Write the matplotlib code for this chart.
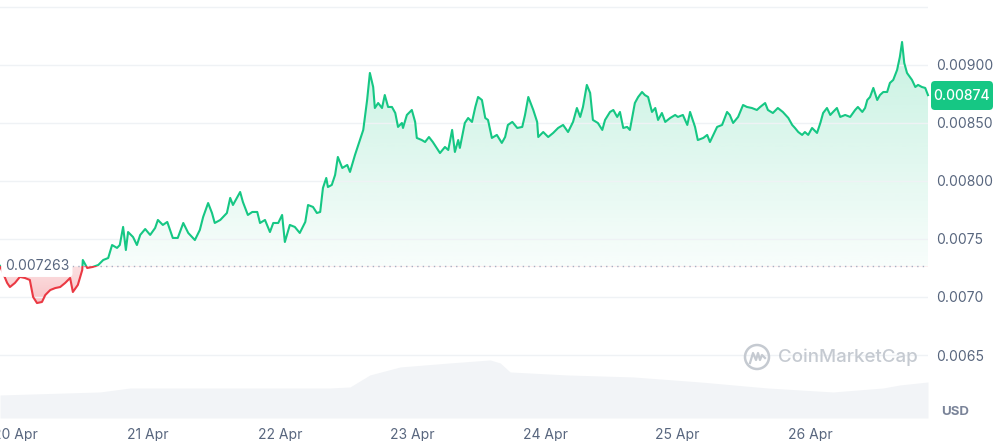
import matplotlib.pyplot as plt
import matplotlib.dates as mdates
import matplotlib.patches as mpatches
from matplotlib.transforms import IdentityTransform
from matplotlib.ticker import FixedLocator, FixedFormatter
import numpy as np
import pandas as pd

plt.rcParams['font.family'] = ['Inter', 'DejaVu Sans']

# 7日間の価格 (開始時刻からの経過時間)
start = pd.Timestamp('2024-04-19 21:17')
hours = [
    0.0, 1.3, 1.8, 2.7, 3.6, 4.5, 5.4, 6.0, 6.7, 7.6,
    8.2, 9.1, 10.0, 10.9, 11.8, 12.7, 13.2, 14.1, 14.9, 15.0,
    15.8, 16.8, 17.8, 18.7, 19.6, 20.3, 21.2, 21.7, 22.3, 22.8,
    23.2, 24.1, 24.8, 25.4, 26.3, 27.2, 28.1, 28.6, 29.5, 30.3,
    31.3, 32.2, 33.2, 34.1, 35.3, 36.2, 36.8, 37.7, 38.4, 38.9,
    39.9, 41.1, 41.7, 42.2, 43.5, 44.0, 44.9, 45.7, 46.6, 47.1,
    48.0, 48.9, 49.5, 50.4, 51.1, 51.6, 52.5, 53.4, 54.3, 55.3,
    55.8, 56.7, 57.4, 58.0, 58.5, 59.1, 59.4, 60.1, 60.7, 61.2,
    62.0, 62.9, 63.4, 64.3, 65.2, 65.8, 66.5, 67.0, 67.6, 67.9,
    68.5, 69.2, 69.7, 70.3, 71.0, 71.6, 72.1, 72.8, 73.0, 73.7,
    74.6, 75.2, 75.5, 76.4, 77.0, 77.7, 78.4, 79.7, 80.6, 81.2,
    81.9, 82.4, 83.0, 83.3, 84.2, 84.8, 85.5, 86.1, 86.6, 87.3,
    87.9, 88.4, 89.1, 90.0, 90.9, 91.5, 92.0, 92.8, 93.7, 94.6,
    95.1, 95.7, 96.6, 97.3, 97.5, 98.4, 99.3, 100.2, 101.1, 102.0,
    102.9, 103.8, 104.5, 105.1, 105.6, 106.3, 106.9, 107.4, 108.3, 109.1,
    109.6, 110.5, 111.1, 111.8, 112.3, 112.9, 113.6, 114.1, 115.0, 115.6,
    116.3, 116.8, 117.4, 118.1, 118.7, 119.2, 119.9, 120.5, 121.4, 122.3,
    122.8, 123.7, 124.5, 125.0, 125.9, 126.4, 127.4, 128.1, 128.6, 129.9,
    130.8, 131.7, 132.2, 132.8, 133.7, 134.6, 135.3, 136.2, 137.1, 137.7,
    138.6, 139.1, 140.0, 140.9, 141.8, 142.8, 143.5, 144.0, 144.6, 145.3,
    145.8, 146.4, 147.1, 148.0, 148.6, 149.1, 149.8, 150.4, 150.9, 151.6,
    152.2, 153.1, 154.0, 154.9, 155.4, 156.2, 156.7, 157.1, 157.6, 158.2,
    158.9, 159.4, 160.0, 160.7, 161.2, 161.8, 162.5, 163.0, 163.4, 163.8,
    164.3, 165.2, 165.8, 166.3, 167.0, 167.6, 168.1,
]
price = [
    0.007268, 0.007121, 0.007086, 0.007121, 0.007173, 0.007164, 0.007147, 0.007000, 0.006948, 0.006957,
    0.007017, 0.007060, 0.007077, 0.007086, 0.007121, 0.007164, 0.007043, 0.007104, 0.007233, 0.007319,
    0.007250, 0.007259, 0.007276, 0.007319, 0.007336, 0.007448, 0.007423, 0.007448, 0.007604, 0.007405,
    0.007560, 0.007517, 0.007448, 0.007535, 0.007586, 0.007535, 0.007595, 0.007664, 0.007621, 0.007647,
    0.007509, 0.007509, 0.007638, 0.007552, 0.007491, 0.007578, 0.007690, 0.007810, 0.007724, 0.007638,
    0.007664, 0.007724, 0.007854, 0.007793, 0.007905, 0.007819, 0.007707, 0.007733, 0.007733, 0.007638,
    0.007664, 0.007560, 0.007638, 0.007638, 0.007707, 0.007474, 0.007621, 0.007604, 0.007552, 0.007647,
    0.007793, 0.007776, 0.007724, 0.007733, 0.007940, 0.008026, 0.007948, 0.007966, 0.008052, 0.008207,
    0.008112, 0.008138, 0.008078, 0.008224, 0.008353, 0.008440, 0.008698, 0.008931, 0.008810, 0.008629,
    0.008672, 0.008629, 0.008741, 0.008638, 0.008638, 0.008586, 0.008466, 0.008500, 0.008457, 0.008569,
    0.008612, 0.008509, 0.008371, 0.008353, 0.008336, 0.008379, 0.008336, 0.008241, 0.008293, 0.008267,
    0.008440, 0.008250, 0.008353, 0.008285, 0.008500, 0.008543, 0.008509, 0.008638, 0.008724, 0.008698,
    0.008543, 0.008526, 0.008371, 0.008397, 0.008328, 0.008379, 0.008483, 0.008509, 0.008457, 0.008466,
    0.008569, 0.008724, 0.008612, 0.008509, 0.008379, 0.008422, 0.008379, 0.008414, 0.008457, 0.008483,
    0.008422, 0.008509, 0.008629, 0.008552, 0.008638, 0.008828, 0.008759, 0.008526, 0.008500, 0.008440,
    0.008526, 0.008595, 0.008612, 0.008552, 0.008595, 0.008457, 0.008466, 0.008440, 0.008672, 0.008724,
    0.008767, 0.008741, 0.008724, 0.008595, 0.008629, 0.008526, 0.008586, 0.008509, 0.008543, 0.008569,
    0.008552, 0.008569, 0.008483, 0.008595, 0.008466, 0.008353, 0.008371, 0.008397, 0.008336, 0.008466,
    0.008483, 0.008595, 0.008569, 0.008500, 0.008552, 0.008655, 0.008638, 0.008629, 0.008612, 0.008638,
    0.008672, 0.008612, 0.008586, 0.008629, 0.008595, 0.008543, 0.008483, 0.008457, 0.008422, 0.008397,
    0.008422, 0.008397, 0.008457, 0.008414, 0.008500, 0.008586, 0.008629, 0.008569, 0.008595, 0.008629,
    0.008552, 0.008569, 0.008552, 0.008612, 0.008638, 0.008595, 0.008629, 0.008698, 0.008724, 0.008802,
    0.008698, 0.008741, 0.008767, 0.008767, 0.008845, 0.008871, 0.008957, 0.009069, 0.009198, 0.009017,
    0.008931, 0.008871, 0.008810, 0.008828, 0.008810, 0.008802, 0.008740,
]
open_price = 0.007263
last_label = '0.00874'

# 出来高 (相対値)
vol_hours = [0.0, 18.1, 23.6, 43.5, 59.8, 63.4, 67.0, 72.5, 81.5, 88.8,
             90.6, 92.4, 102.7, 114.7, 126.8, 139.0, 150.9, 160.0, 163.0, 168.1]
volume = [23, 26, 30, 30, 30, 31, 43, 51, 55, 58,
          55, 46, 43, 41, 36, 30, 26, 30, 33, 36]

ytick_values = [0.0065, 0.0070, 0.0075, 0.0080, 0.0085, 0.0090, 0.0095]
ytick_labels = ['0.0065', '0.0070', '0.0075', '0.00800', '0.00850', '0.00900', '']

green = '#16c784'
red = '#ea3943'
gray = '#58667e'

t = mdates.date2num((start + pd.to_timedelta(hours, unit='h')).to_pydatetime())
tv = mdates.date2num((start + pd.to_timedelta(vol_hours, unit='h')).to_pydatetime())
p = np.array(price)
t0, t1 = t[0], t[-1]
ylo, yhi = 0.005957, 0.009560

fig = plt.figure(figsize=(9.97, 4.41), dpi=100)
pos = [0, 23 / 441, 928 / 997, 418 / 441]

# 出来高エリア
ax_vol = fig.add_axes(pos)
ax_vol.fill_between(tv, volume, 0, color='#f2f4f7', lw=0)
ax_vol.set_xlim(t0, t1)
ax_vol.set_ylim(0, max(volume) * 7.2)
ax_vol.axis('off')

ax = fig.add_axes(pos, facecolor='none')

# グラデーション塗り
poly = ax.fill_between(t, p, open_price, color='none', lw=0)
clip = poly.get_paths()[0]

g = np.zeros((256, 1, 4))
g[..., :3] = np.array([22, 199, 132]) / 255
g[:, 0, 3] = np.linspace(0.24, 0.03, 256)
im_g = ax.imshow(g, extent=[t0, t1, open_price, p.max()], aspect='auto',
                 origin='upper', interpolation='bilinear', zorder=1)
im_g.set_clip_path(clip, transform=ax.transData)

r = np.zeros((256, 1, 4))
r[..., :3] = np.array([234, 57, 67]) / 255
r[:, 0, 3] = np.linspace(0.16, 0.3, 256)
im_r = ax.imshow(r, extent=[t0, t1, p.min(), open_price], aspect='auto',
                 origin='upper', interpolation='bilinear', zorder=1)
im_r.set_clip_path(clip, transform=ax.transData)

# 価格ライン (基準より上は緑、下は赤)
up_box = mpatches.Rectangle((t0 - 1, open_price), t1 - t0 + 2, 1, transform=ax.transData)
dn_box = mpatches.Rectangle((t0 - 1, 0), t1 - t0 + 2, open_price, transform=ax.transData)
l1, = ax.plot(t, p, color=green, lw=1.5, zorder=3, solid_joinstyle='round')
l1.set_clip_path(up_box)
l2, = ax.plot(t, p, color=red, lw=1.5, zorder=3, solid_joinstyle='round')
l2.set_clip_path(dn_box)

ax.axhline(open_price, color='#a6b0c3', ls=(0, (1, 3)), lw=1, zorder=2)
ax.text(0.005, open_price, '0.007263', transform=ax.get_yaxis_transform(),
        ha='left', va='center', fontsize=10, color=gray, zorder=4,
        bbox=dict(boxstyle='round,pad=0.25', fc='white', ec='none'))

ax.set_xlim(t0, t1)
ax.set_ylim(ylo, yhi)

ax.yaxis.tick_right()
ax.yaxis.set_major_locator(FixedLocator(ytick_values))
ax.yaxis.set_major_formatter(FixedFormatter(ytick_labels))
ax.tick_params(axis='y', length=0, pad=6, labelsize=10, labelcolor=gray)
ax.grid(axis='y', color='#eff2f5', lw=1)

ax.xaxis.set_major_locator(mdates.DayLocator())
ax.xaxis.set_major_formatter(mdates.DateFormatter('%-d %b'))
ax.tick_params(axis='x', length=0, pad=7, labelsize=10, labelcolor=gray)

for s in ax.spines.values():
    s.set_visible(False)

# 現在価格バッジ
badge = mpatches.FancyBboxPatch((931, 441 - 110), 62, 29,
                                boxstyle='round,pad=0,rounding_size=4',
                                fc=green, ec='none', transform=IdentityTransform())
fig.add_artist(badge)
fig.text(962 / 997, 1 - 95.5 / 441, last_label, ha='center', va='center',
         fontsize=10, color='white', fontweight='medium')

fig.text(955 / 997, 1 - 412 / 441, 'USD', ha='center', va='center',
         fontsize=9.5, fontweight='bold', color='#7a8499')

# ウォーターマーク
wm = '#c5cad1'
fig.add_artist(mpatches.Circle((757, 441 - 357), 12, fill=False, ec=wm, lw=1.8,
                               transform=IdentityTransform()))
mx = np.array([-7, -4, -1, 1, 3, 5, 8]) + 757
my = np.array([-6, 4, -3, 4, -3, 2, -1]) + 441 - 357
fig.add_artist(plt.Line2D(mx, my, color=wm, lw=1.6, transform=IdentityTransform()))
fig.text(778 / 997, 1 - 357 / 441, 'CoinMarketCap', ha='left', va='center',
         fontsize=13.5, color=wm, fontweight='medium')

fig.savefig('out.png', dpi=100)
